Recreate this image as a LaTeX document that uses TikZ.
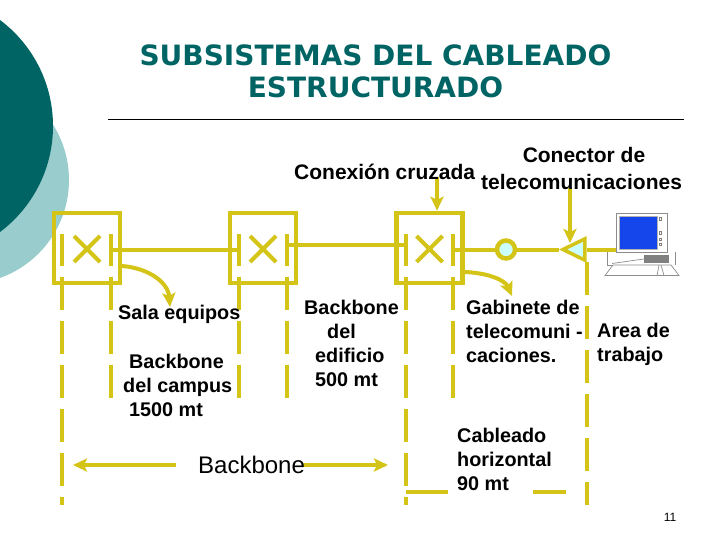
\documentclass[tikz,border=0pt]{standalone}
\usepackage{fontspec}
\setmainfont{Liberation Sans}
\newfontfamily\titlefont{DejaVu Sans}
\usetikzlibrary{positioning, calc, arrows.meta, shapes.geometric, shapes.misc}
\definecolor{cablecol}{RGB}{212,196,24}
\definecolor{tealdark}{RGB}{0,100,100}
\definecolor{teallight}{RGB}{153,204,204}
\definecolor{portcol}{RGB}{204,255,255}
\definecolor{screencol}{RGB}{20,70,235}
\tikzset{cable/.style={draw=cablecol, line width=4pt}}
\tikzset{drop/.style={cable, dash pattern=on 33pt off 11pt}}
\tikzset{feed/.style={cable, -{Stealth[length=14pt, width=13pt, inset=3pt]}}}
\tikzset{xbox/.style={draw=cablecol, line width=4.5pt, minimum width=66pt, minimum height=70pt, inner sep=0pt}}
\tikzset{xbar/.style={fill=cablecol, minimum width=4.5pt, minimum height=32pt, inner sep=0pt}}
\tikzset{xcross/.style={cross out, draw=cablecol, line width=4pt, minimum size=22pt, inner sep=0pt}}
\tikzset{lbl/.style={font=\fontsize{19.8}{24}\selectfont\bfseries, align=left, anchor=west, inner sep=0pt}}
\tikzset{toplbl/.style={lbl, font=\fontsize{21}{24}\selectfont\bfseries}}
\tikzset{pcline/.style={draw=black!45, line width=0.7pt}}
\begin{document}
\begin{tikzpicture}[x=1pt, y=-1pt]
  \useasboundingbox (0,0) rectangle (720,540);

  % background
  \begin{scope}
    \clip (0,0) rectangle (720,540);
    \fill[teallight] (-35,180) circle (104);
    \fill[tealdark] (-79.5,126) circle (132.5);
  \end{scope}

  % title
  \node (title) at (375.5,71) [align=center, text=tealdark, font=\titlefont\fontsize{28}{32}\selectfont\bfseries] {SUBSISTEMAS DEL CABLEADO\\ESTRUCTURADO};
  \coordinate (ruleL) at (108,119.5);
  \coordinate (ruleR) at (684,119.5);
  \draw[line width=1.5pt] (ruleL) -- (ruleR);

  \coordinate (dtop) at (0,277);
  \coordinate (dmid) at (0,398);
  \coordinate (dend) at (0,505);

  % cross connects
  \node[xbox] (b1) at (87,248) {};
  \node[xbar] (b1l) at (62,249.5) {};
  \node[xbar] (b1r) at (111,249.5) {};
  \node[xcross] (x1) at (87,249) {};

  \node[xbox] (b2) at (263,248) {};
  \node[xbar] (b2l) at (239,249.5) {};
  \node[xbar] (b2r) at (287,249.5) {};
  \node[xcross] (x2) at (263,249) {};

  \node[xbox] (b3) at (429.5,248) {};
  \node[xbar] (b3l) at (406,249.5) {};
  \node[xbar] (b3r) at (453,249.5) {};
  \node[xcross] (x3) at (429.5,249) {};

  \node[circle, draw=cablecol, fill=portcol, line width=4.5pt, minimum size=18pt, inner sep=0pt] (gab) at (506,249.5) {};
  \node[isosceles triangle, isosceles triangle apex angle=52, shape border rotate=180, anchor=apex, draw=cablecol, fill=portcol, line width=3.5pt, minimum height=22pt, inner sep=0pt] (plug) at (559,249.5) {};

  % runs between the boxes
  \draw[cable] (b1r) -- (b2l);
  \draw[cable] ([yshift=4.5pt]b2r.center) -- ([yshift=4.5pt]b3l.center);
  \draw[cable] (b3r) -- (gab);
  \draw[cable] (gab) -- (plug.apex);

  % computer
  \node[draw=black!45, line width=0.8pt, fill=white, minimum width=51pt, minimum height=39pt, inner sep=0pt] (mon) at (641.5,232.5) {};
  \node[fill=screencol, draw=black!30, line width=0.4pt, minimum width=38pt, minimum height=33pt, inner sep=0pt] (scr) at (638,232.5) {};
  \node[fill=black!50, minimum width=25pt, minimum height=8pt, inner sep=0pt] (drv) at (656.5,259) {};
  \node[draw=black!50, line width=0.5pt, minimum size=2.5pt, inner sep=0pt] (k1) at (660,219) {};
  \node[draw=black!50, line width=0.5pt, minimum size=2.5pt, inner sep=0pt] (k2) at (660,233) {};
  \node[draw=black!50, line width=0.5pt, minimum size=2.5pt, inner sep=0pt] (k3) at (660,239) {};
  \node[draw=black!50, line width=0.5pt, minimum size=2.5pt, inner sep=0pt] (k4) at (660,244) {};
  \coordinate (baseL) at (607,252);
  \coordinate (baseR) at (675,252);
  \coordinate (keyL) at (605,275.5);
  \coordinate (keyR) at (679,275.5);
  \coordinate (keyA) at (613,265);
  \coordinate (keyB) at (671,265);
  \draw[pcline] (baseL) -- (baseL |- keyA) -- (keyA);
  \draw[pcline] (baseR) -- (baseR |- keyB);
  \draw[pcline] (keyL) -- (keyA) -- (keyB) -- (keyR) -- cycle;
  \draw[pcline] (612,263.5) -- (drv.west);
  \draw[pcline] (659,265) -- (657,275.5);
  \draw[pcline] (661,265) -- (664,275.5);
  \draw[cable] (plug.east) -- (mon.west |- plug.east);

  % dashed runs
  \draw[drop] (b1l |- dtop) -- (b1l |- dend);
  \draw[drop] (b1r |- dtop) -- (b1r |- dmid);
  \draw[drop] (b2l |- dtop) -- (b2l |- dmid);
  \draw[drop] (b2r |- dtop) -- (b2r |- dmid);
  \draw[drop] (b3l |- dtop) -- (b3l |- dend);
  \draw[drop] (b3r |- dtop) -- (b3r |- dmid);
  \coordinate (wtop) at (587,262);
  \coordinate (wend) at (587,505);
  \draw[drop] (wtop) -- (wend);

  % horizontal stubs
  \coordinate (h0) at (406,492);
  \coordinate (h1) at (448,492);
  \coordinate (h2) at (533,492);
  \coordinate (h3) at (566,492);
  \draw[cable] (h0) -- (h1);
  \draw[cable] (h2) -- (h3);

  % arrows
  \coordinate (a1) at (122,266);
  \coordinate (a2) at (170,307);
  \draw[feed] (a1) .. controls (148,268) and (168,282) .. (a2);
  \coordinate (a3) at (465,272);
  \coordinate (a4) at (512,296);
  \draw[feed] (a3) .. controls (488,273) and (505,280) .. (a4);
  \coordinate (a5) at (437,177);
  \draw[feed] (a5) -- (a5 |- b3.north);
  \coordinate (a6) at (570,188);
  \coordinate (a7) at (570,243);
  \draw[feed] (a6) -- (a7);
  \coordinate (a8) at (176,465);
  \coordinate (a9) at (73,465);
  \draw[feed] (a8) -- (a9);
  \coordinate (a10) at (303,465);
  \coordinate (a11) at (388,465);
  \draw[feed] (a10) -- (a11);

  % labels
  \node[toplbl, anchor=center] (conector) at (584,155) {Conector de};
  \node[toplbl] (conexion) at (294,172) {Conexión cruzada};
  \node[toplbl] (telecom) at (481,182) {telecomunicaciones};
  \node[lbl] (sala) at (118,314) {Sala equipos};
  \node[lbl, anchor=north west] (campus) at (123,353.5) {\hspace*{6pt}Backbone\\del campus\\\hspace*{6pt}1500 mt};
  \node[lbl, anchor=north west] (edificio) at (304,299.5) {Backbone\\\hspace*{23pt}del\\\hspace*{11pt}edificio\\\hspace*{11pt}500 mt};
  \node[lbl, anchor=north west] (gabinete) at (466,299.5) {Gabinete de\\telecomuni -\\caciones.};
  \node[lbl, anchor=north west] (area) at (597,322.5) {Area de\\trabajo};
  \node[lbl, anchor=north west] (cableado) at (457,427.5) {Cableado\\horizontal\\90 mt};
  \node[font=\fontsize{24}{28}\selectfont, anchor=west, inner sep=0pt] (backbone) at (198,465) {Backbone};
  \node[font=\fontsize{12}{14}\selectfont, inner sep=0pt] (page) at (670,517) {11};
\end{tikzpicture}
\end{document}
